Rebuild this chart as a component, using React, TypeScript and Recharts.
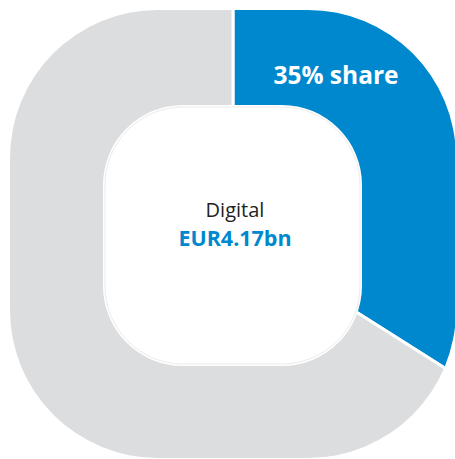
import React from "react";
import { PieChart, Pie, Cell } from "recharts";

const segmentNames = ["Digital", "Other"];
const segmentValues = [4.17, 8.1]; // EUR bn
const segmentColors = ["#0088cf", "#dcdddf"];
const shareLabel = "35% share";
const centerTitle = "Digital";
const centerValue = "EUR4.17bn";

const data = segmentNames.map((name, i) => ({ name, value: segmentValues[i] }));

const W = 455;
const H = 459;
const CX = 233;
const CY = 234;

function roundRect(x: number, y: number, w: number, h: number, r: number) {
  return `M${x + r},${y} H${x + w - r} A${r},${r} 0 0 1 ${x + w},${y + r} V${y + h - r} A${r},${r} 0 0 1 ${x + w - r},${y + h} H${x + r} A${r},${r} 0 0 1 ${x},${y + h - r} V${y + r} A${r},${r} 0 0 1 ${x + r},${y} Z`;
}

const outerPath = roundRect(10, 10, 446, 448, 148);
const innerPath = roundRect(103, 105, 259, 261, 80);

export default function App() {
  return (
    <div style={{ position: "absolute", left: 0, top: 0, width: W, height: H, background: "#fff" }}>
      <style>{`.ring-pie .recharts-pie-sector path, .ring-pie path.recharts-sector { clip-path: url(#ringClip); }`}</style>
      <svg width={0} height={0} style={{ position: "absolute" }}>
        <defs>
          <clipPath id="ringClip" clipPathUnits="userSpaceOnUse">
            <path d={outerPath + " " + innerPath} clipRule="evenodd" />
          </clipPath>
        </defs>
      </svg>
      <div style={{ position: "absolute", left: 0, top: 0 }}>
        <PieChart width={W} height={H} margin={{ top: 0, right: 0, bottom: 0, left: 0 }}>
          <Pie
            className="ring-pie"
            data={data}
            dataKey="value"
            nameKey="name"
            cx={CX}
            cy={CY}
            innerRadius={0}
            outerRadius={340}
            startAngle={90}
            endAngle={-270}
            stroke="#ffffff"
            strokeWidth={3}
            isAnimationActive={false}
          >
            {data.map((d, i) => (
              <Cell key={d.name} fill={segmentColors[i]} clipPath="url(#ringClip)" />
            ))}
          </Pie>
        </PieChart>
      </div>
      <svg width={W} height={H} style={{ position: "absolute", left: 0, top: 0, pointerEvents: "none" }}>
        <path d={roundRect(105, 107, 255, 257, 78)} fill="#ffffff" stroke="#ebebeb" strokeWidth={1} />
        <text x={336} y={84} textAnchor="middle" fill="#ffffff" fontFamily="'Open Sans', sans-serif" fontWeight={700} fontSize={24.5}>
          {shareLabel}
        </text>
        <text x={235} y={217} textAnchor="middle" fill="#231f20" fontFamily="'Open Sans', sans-serif" fontSize={20}>
          {centerTitle}
        </text>
        <text x={235} y={246} textAnchor="middle" fill="#0088cf" fontFamily="'Open Sans', sans-serif" fontWeight={700} fontSize={21.5}>
          {centerValue}
        </text>
      </svg>
    </div>
  );
}
